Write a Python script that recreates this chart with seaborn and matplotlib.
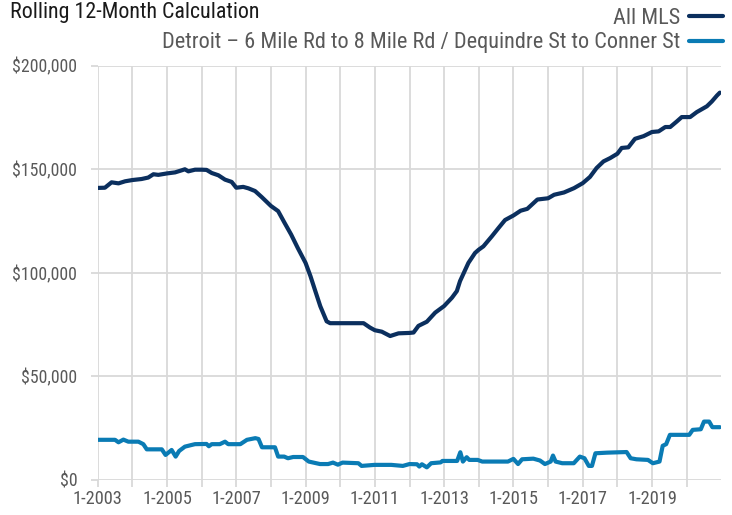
import matplotlib
matplotlib.use("Agg")
import matplotlib.pyplot as plt
import seaborn as sns
import pandas as pd
from matplotlib.ticker import FixedLocator, FuncFormatter

# ---- data (month index: 0 = Jan 2003) ----
mls_month = [0, 2.5, 4.8, 7.2, 9.5, 12, 15.2, 17.5, 19.3, 21, 24, 26.8, 29.1, 30.2, 31.4, 33.7,
             36, 37.7, 39.5, 41.8, 44.1, 46.4, 48, 50.4, 52.2, 54.5, 56.8, 60, 62.5, 64.7, 67,
             69.3, 72, 73.7, 75.4, 77.1, 79.3, 80.5, 92.1, 94.3, 96, 98.4, 101.3, 104.2, 108,
             109.4, 111.1, 114, 116.9, 120, 122.7, 124.4, 125.5, 128.4, 130.7, 132, 133.6,
             136.5, 138.8, 141.1, 144, 146.5, 148.8, 152.3, 156, 158.1, 161.5, 165, 168,
             170.5, 172.8, 175.2, 177.5, 180, 181.5, 183.8, 186.1, 189.1, 192, 194.3, 196.6,
             198.3, 200.6, 202.3, 205.2, 207.5, 211, 212.7, 214.5, 215.5]
mls_value = [141.0, 141.1, 143.7, 143.2, 144.2, 144.8, 145.3, 146.0, 147.6, 147.3, 148.0, 148.5,
             149.5, 150.0, 149.0, 149.8, 149.8, 149.7, 148.2, 147.1, 145.0, 143.9, 141.1, 141.5,
             140.8, 139.5, 136.6, 132.3, 129.8, 124.2, 118.5, 112.0, 104.8, 98.4, 91.1, 83.9,
             76.6, 75.7, 75.7, 73.6, 72.3, 71.6, 69.5, 70.8, 71.0, 71.2, 74.4, 76.4, 80.8, 84.0,
             88.0, 91.2, 96.0, 104.8, 109.6, 111.2, 112.8, 117.6, 121.6, 125.5, 127.7, 130.0,
             130.9, 135.4, 136.0, 137.7, 138.8, 140.9, 143.3, 146.3, 150.6, 153.8, 155.4, 157.5,
             160.3, 160.6, 164.7, 166.0, 168.0, 168.3, 170.4, 170.4, 173.1, 175.2, 175.2, 177.6,
             180.4, 182.7, 185.6, 187.0]

det_month = [0, 6, 7.2, 8.9, 10.6, 14.1, 15.8, 17, 22.2, 23.5, 25.6, 27, 28.2, 30.2, 32.5, 33.7,
             37.7, 38.5, 39.5, 42.3, 44.1, 45.2, 49.4, 51.7, 54.6, 55.7, 56.9, 61.4, 62.5, 64.6,
             65.9, 67.7, 71.1, 73.1, 77, 79.8, 81.5, 83.2, 84.8, 90.3, 91.4, 95.9, 101.7, 105.7,
             108, 110.6, 111.4, 112.3, 114, 115.5, 118.8, 119.4, 124.5, 125.6, 126.5, 127.8,
             128.7, 131.6, 133.2, 137.6, 142.1, 144, 145.6, 147, 150.9, 153.2, 154.9, 156.9,
             157.7, 158.6, 160.9, 164.9, 167, 168.6, 170.1, 171.2, 172.4, 176.4, 183.2, 184.6,
             186.6, 190.6, 192.3, 194.6, 195.7, 196.9, 198.2, 204.9, 206.1, 208.9, 210, 211.8,
             212.9, 215.5]
det_value = [19.4, 19.4, 18.2, 19.5, 18.5, 18.5, 17.3, 14.8, 14.8, 12.1, 14.5, 11.3, 14.0, 16.1,
             16.9, 17.3, 17.4, 16.3, 17.3, 17.3, 18.5, 17.3, 17.3, 19.4, 20.2, 19.8, 15.8, 15.8,
             11.3, 11.3, 10.5, 11.1, 11.1, 8.9, 7.7, 7.7, 8.4, 7.4, 8.4, 8.1, 6.8, 7.3, 7.3, 6.8,
             7.7, 7.6, 6.5, 7.6, 6.1, 8.1, 8.5, 9.2, 9.2, 13.4, 8.9, 11.0, 9.7, 9.7, 8.9, 8.9,
             8.9, 10.2, 7.7, 10.0, 10.3, 9.4, 7.7, 8.9, 11.8, 8.9, 8.1, 8.1, 11.3, 10.5, 6.8, 6.8,
             12.9, 13.2, 13.5, 10.5, 10.0, 9.7, 8.1, 8.9, 16.5, 17.3, 21.8, 21.8, 24.2, 24.5,
             28.2, 28.2, 25.5, 25.5]

series_names = ["All MLS", "Detroit – 6 Mile Rd to 8 Mile Rd / Dequindre St to Conner St"]
tick_years = [2003, 2005, 2007, 2009, 2011, 2013, 2015, 2017, 2019]
y_ticks = [0, 50000, 100000, 150000, 200000]

df = pd.concat([
    pd.DataFrame({"month": mls_month, "value": [v * 1000 for v in mls_value], "series": series_names[0]}),
    pd.DataFrame({"month": det_month, "value": [v * 1000 for v in det_value], "series": series_names[1]}),
])

sns.set_theme(style="white")
plt.rcParams["font.family"] = ["Roboto Condensed", "Liberation Sans", "DejaVu Sans"]

GRID = "#d9d9d9"
TXT = "#595959"
palette = {series_names[0]: "#0b2f5e", series_names[1]: "#0a7bb4"}

fig = plt.figure(figsize=(7.32, 5.15), dpi=100)
ax = fig.add_axes([97.7 / 732, 1 - 480 / 515, (721.3 - 97.7) / 732, (480 - 65.7) / 515])

sns.lineplot(data=df, x="month", y="value", hue="series", palette=palette, estimator=None,
             sort=False, linewidth=3.0, ax=ax, legend=False)

ax.set_xlim(0, 216)
ax.set_ylim(0, 200000)
ax.xaxis.set_major_locator(FixedLocator([(y - 2003) * 12 for y in tick_years]))
ax.xaxis.set_minor_locator(FixedLocator([(y - 2003) * 12 + 12 for y in tick_years]))
ax.set_xticklabels([f"1-{y}" for y in tick_years])
ax.yaxis.set_major_locator(FixedLocator(y_ticks))
ax.yaxis.set_major_formatter(FuncFormatter(lambda v, p: f"${v:,.0f}"))
ax.set_xlabel("")
ax.set_ylabel("")

for s in ax.spines.values():
    s.set_visible(False)
ax.grid(True, which="both", axis="x", color=GRID, linewidth=1.3)
ax.grid(True, which="major", axis="y", color=GRID, linewidth=1.3)
ax.set_axisbelow(True)
ax.tick_params(axis="x", which="both", length=5, width=1.3, color=GRID, pad=2.5,
               labelsize=13.2, labelcolor=TXT, bottom=True)
ax.tick_params(axis="y", which="major", length=4.7, width=1.3, color=GRID, pad=10,
               labelsize=12.8, labelcolor=TXT, left=True)

# legend
from matplotlib.lines import Line2D
handles = [Line2D([], [], color=palette[n], linewidth=3.0) for n in series_names]
fig.legend(handles, series_names, loc="upper right", bbox_to_anchor=(723 / 732, 1 - 8 / 515),
           markerfirst=False, frameon=False, fontsize=16, labelcolor=TXT,
           handlelength=1.55, handletextpad=0.36, labelspacing=0.15, borderaxespad=0, borderpad=0)

fig.text(10 / 732, 1 - 2 / 515, "Rolling 12-Month Calculation", ha="left", va="top",
         fontsize=15.8, color="#1a1a1a")

fig.savefig("out.png", dpi=100)
